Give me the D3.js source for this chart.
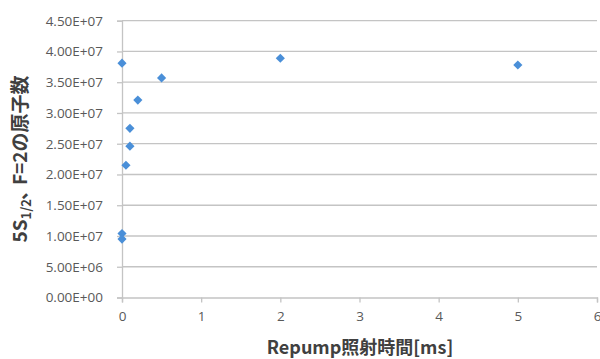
<!DOCTYPE html>
<html><head><meta charset="utf-8">
<script src="https://cdn.jsdelivr.net/npm/d3@7"></script>
<style>body{margin:0;background:#fff}svg{display:block}</style>
</head><body>
<script>
const repumpTime = [0, 0, 0, 0.05, 0.1, 0.1, 0.2, 0.5, 2, 5];
const atomCount = [3.81e7, 1.04e7, 0.95e7, 2.15e7, 2.46e7, 2.75e7, 3.21e7, 3.57e7, 3.89e7, 3.78e7];
const xTicks = [0, 1, 2, 3, 4, 5, 6];
const yTicks = [0, 5e6, 1e7, 1.5e7, 2e7, 2.5e7, 3e7, 3.5e7, 4e7, 4.5e7];
const xTitle = "Repump照射時間[ms]";
const yTitleMain = "5S";
const yTitleSub = "1/2";
const yTitleComma = "、";
const yTitleRest = "F=2の原子数";

const W = 600, H = 359;
const m = {left: 122, right: 3, top: 20.7, bottom: 61.5};
const svg = d3.select("body").append("svg").attr("width", W).attr("height", H);
const x = d3.scaleLinear().domain([0, 6]).range([m.left, W - m.right]);
const y = d3.scaleLinear().domain([0, 4.5e7]).range([H - m.bottom, m.top]);

const fmt = v => {
  if (v === 0) return "0.00E+00";
  const e = Math.floor(Math.log10(v));
  const mant = v / Math.pow(10, e);
  return mant.toFixed(2) + "E+" + String(e).padStart(2, "0");
};

const tickFont = "'Open Sans', 'Liberation Sans', sans-serif";
const gridColor = "#c4c4c4";

// gridlines
svg.append("g").selectAll("line").data(yTicks.slice(1)).join("line")
  .attr("x1", x(0)).attr("x2", x(6))
  .attr("y1", d => y(d)).attr("y2", d => y(d))
  .attr("stroke", gridColor).attr("stroke-width", 1.3);

// y axis
const yAxis = svg.append("g").attr("transform", `translate(${x(0)},0)`)
  .call(d3.axisLeft(y).tickValues(yTicks).tickFormat(fmt).tickSize(5).tickPadding(14));
yAxis.select(".domain").attr("stroke", gridColor).attr("stroke-width", 1.3);
yAxis.selectAll(".tick line").attr("stroke", gridColor).attr("stroke-width", 1.3);
yAxis.selectAll("text").attr("font-family", tickFont).attr("font-size", 13.5).attr("fill", "#595959");

// x axis
const xAxis = svg.append("g").attr("transform", `translate(0,${y(0)})`)
  .call(d3.axisBottom(x).tickValues(xTicks).tickFormat(d3.format("d")).tickSize(5).tickPadding(9));
xAxis.select(".domain").attr("stroke", gridColor).attr("stroke-width", 1.3);
xAxis.selectAll(".tick line").attr("stroke", gridColor).attr("stroke-width", 1.3);
xAxis.selectAll("text").attr("font-family", tickFont).attr("font-size", 13.5).attr("fill", "#595959");

// points
const pts = repumpTime.map((t, i) => ({t, n: atomCount[i]}));
svg.append("g").selectAll("path").data(pts).join("path")
  .attr("d", d3.symbol().type(d3.symbolSquare).size(42))
  .attr("transform", d => `translate(${x(d.t)},${y(d.n)}) rotate(45)`)
  .attr("fill", "#4a8fd8");

// titles
const titleFont = "'Noto Sans CJK JP', sans-serif";
svg.append("text").attr("x", 360).attr("y", 354)
  .attr("text-anchor", "middle").attr("font-family", titleFont).attr("font-weight", "bold")
  .attr("font-size", 18).attr("fill", "#404040").text(xTitle);

const yt = svg.append("text").attr("transform", `translate(27,159) rotate(-90)`)
  .attr("text-anchor", "middle").attr("font-family", titleFont).attr("font-weight", "bold")
  .attr("font-size", 19).attr("fill", "#404040");
yt.append("tspan").text(yTitleMain);
yt.append("tspan").attr("font-size", 13).attr("dy", 4).text(yTitleSub);
yt.append("tspan").attr("dy", -4).attr("dx", -1).text(yTitleComma);
yt.append("tspan").attr("dx", -4).text(yTitleRest);
</script>
</body></html>
